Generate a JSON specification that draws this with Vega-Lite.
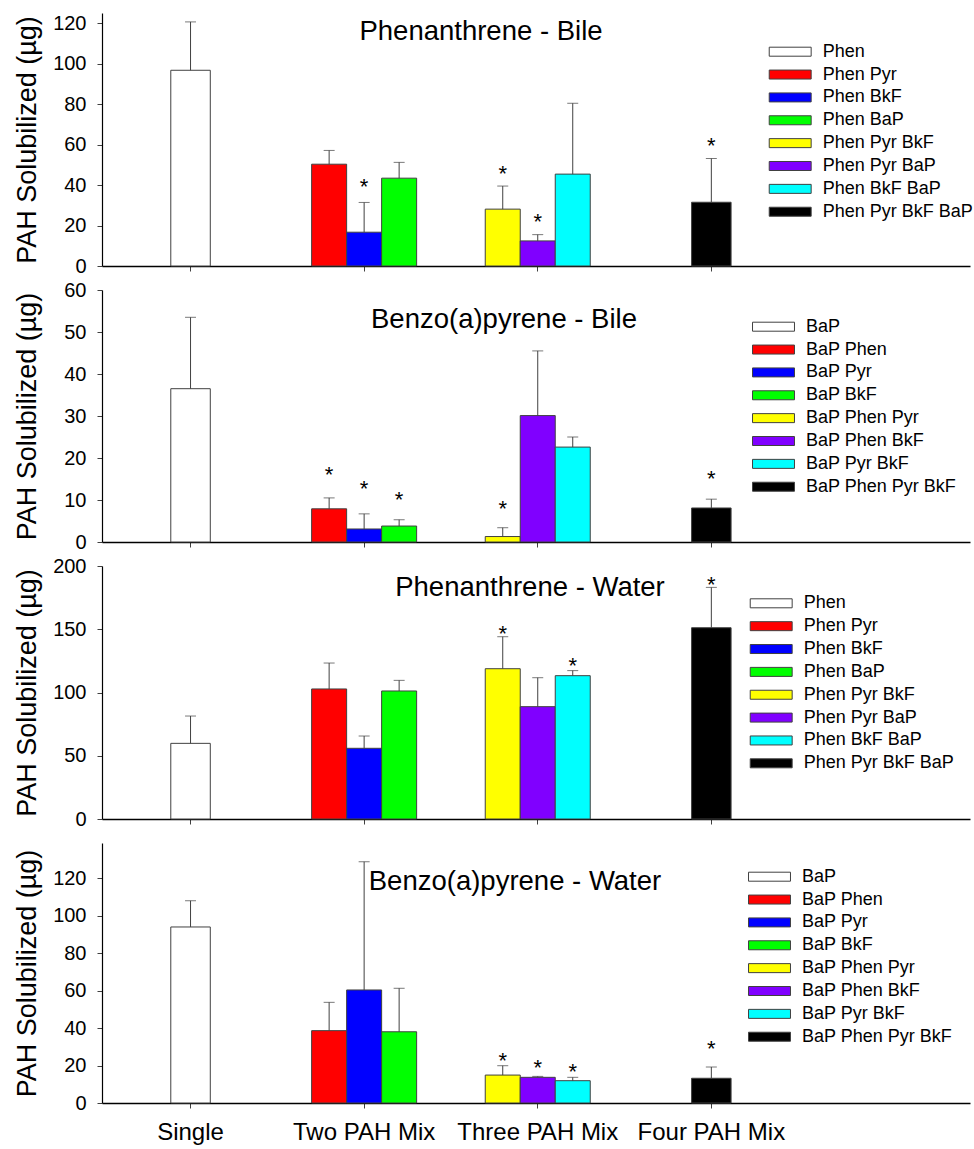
{
  "$schema": "https://vega.github.io/schema/vega-lite/v6.json",
  "padding": {"left": 12, "top": 13, "right": 5, "bottom": 5},
  "background": "white",
  "datasets": {
    "pah": [
      {"panel": "PB", "group": "Single", "member": 2, "mix": "Phen", "value": 96.7, "upper": 120.6, "star": null},
      {"panel": "PB", "group": "Two PAH Mix", "member": 1, "mix": "Phen Pyr", "value": 50.3, "upper": 57.1, "star": null},
      {"panel": "PB", "group": "Two PAH Mix", "member": 2, "mix": "Phen BkF", "value": 16.7, "upper": 31.4, "star": 41.8},
      {"panel": "PB", "group": "Two PAH Mix", "member": 3, "mix": "Phen BaP", "value": 43.4, "upper": 51.2, "star": null},
      {"panel": "PB", "group": "Three PAH Mix", "member": 1, "mix": "Phen Pyr BkF", "value": 28.1, "upper": 39.5, "star": 48.4},
      {"panel": "PB", "group": "Three PAH Mix", "member": 2, "mix": "Phen Pyr BaP", "value": 12.4, "upper": 15.5, "star": 24.4},
      {"panel": "PB", "group": "Three PAH Mix", "member": 3, "mix": "Phen BkF BaP", "value": 45.4, "upper": 80.4, "star": null},
      {"panel": "PB", "group": "Four PAH Mix", "member": 2, "mix": "Phen Pyr BkF BaP", "value": 31.5, "upper": 53.1, "star": 62.4},

      {"panel": "BB", "group": "Single", "member": 2, "mix": "BaP", "value": 36.5, "upper": 53.5, "star": null},
      {"panel": "BB", "group": "Two PAH Mix", "member": 1, "mix": "BaP Phen", "value": 7.9, "upper": 10.5, "star": 17.3},
      {"panel": "BB", "group": "Two PAH Mix", "member": 2, "mix": "BaP Pyr", "value": 3.1, "upper": 6.7, "star": 14.1},
      {"panel": "BB", "group": "Two PAH Mix", "member": 3, "mix": "BaP BkF", "value": 3.8, "upper": 5.3, "star": 11.3},
      {"panel": "BB", "group": "Three PAH Mix", "member": 1, "mix": "BaP Phen Pyr", "value": 1.3, "upper": 3.4, "star": 9.3},
      {"panel": "BB", "group": "Three PAH Mix", "member": 2, "mix": "BaP Phen BkF", "value": 30.1, "upper": 45.5, "star": null},
      {"panel": "BB", "group": "Three PAH Mix", "member": 3, "mix": "BaP Pyr BkF", "value": 22.6, "upper": 25.0, "star": null},
      {"panel": "BB", "group": "Four PAH Mix", "member": 2, "mix": "BaP Phen Pyr BkF", "value": 8.1, "upper": 10.2, "star": 16.3},

      {"panel": "PW", "group": "Single", "member": 2, "mix": "Phen", "value": 59.8, "upper": 81.4, "star": null},
      {"panel": "PW", "group": "Two PAH Mix", "member": 1, "mix": "Phen Pyr", "value": 102.8, "upper": 123.3, "star": null},
      {"panel": "PW", "group": "Two PAH Mix", "member": 2, "mix": "Phen BkF", "value": 55.9, "upper": 65.6, "star": null},
      {"panel": "PW", "group": "Two PAH Mix", "member": 3, "mix": "Phen BaP", "value": 101.2, "upper": 109.6, "star": null},
      {"panel": "PW", "group": "Three PAH Mix", "member": 1, "mix": "Phen Pyr BkF", "value": 118.8, "upper": 144.1, "star": 150.7},
      {"panel": "PW", "group": "Three PAH Mix", "member": 2, "mix": "Phen Pyr BaP", "value": 88.8, "upper": 111.7, "star": null},
      {"panel": "PW", "group": "Three PAH Mix", "member": 3, "mix": "Phen BkF BaP", "value": 113.3, "upper": 117.3, "star": 125.7},
      {"panel": "PW", "group": "Four PAH Mix", "member": 2, "mix": "Phen Pyr BkF BaP", "value": 151.2, "upper": 183.1, "star": 189.7},

      {"panel": "BW", "group": "Single", "member": 2, "mix": "BaP", "value": 93.9, "upper": 107.9, "star": null},
      {"panel": "BW", "group": "Two PAH Mix", "member": 1, "mix": "BaP Phen", "value": 38.6, "upper": 53.7, "star": null},
      {"panel": "BW", "group": "Two PAH Mix", "member": 2, "mix": "BaP Pyr", "value": 60.3, "upper": 128.7, "star": null},
      {"panel": "BW", "group": "Two PAH Mix", "member": 3, "mix": "BaP BkF", "value": 38.0, "upper": 61.2, "star": null},
      {"panel": "BW", "group": "Three PAH Mix", "member": 1, "mix": "BaP Phen Pyr", "value": 14.9, "upper": 19.9, "star": 25.6},
      {"panel": "BW", "group": "Three PAH Mix", "member": 2, "mix": "BaP Phen BkF", "value": 13.7, "upper": 14.2, "star": 22.0},
      {"panel": "BW", "group": "Three PAH Mix", "member": 3, "mix": "BaP Pyr BkF", "value": 11.9, "upper": 13.7, "star": 19.7},
      {"panel": "BW", "group": "Four PAH Mix", "member": 2, "mix": "BaP Phen Pyr BkF", "value": 13.2, "upper": 19.2, "star": 31.8}
    ]
  },
  "vconcat": [
    {
      "width": 868, "height": 253,
      "data": {"name": "pah"},
      "transform": [{"filter": "datum.panel == 'PB'"}],
      "title": {"text": "Phenanthrene - Bile", "anchor": "middle", "baseline": "alphabetic", "offset": -54, "dx": -55},
      "encoding": {
        "x": {"field": "group", "type": "nominal", "sort": ["Single", "Two PAH Mix", "Three PAH Mix", "Four PAH Mix"], "scale": {"paddingInner": 0, "paddingOuter": 0.5, "align": 0.01}, "axis": {"labels": false, "title": null}}
      },
      "layer": [
        {"transform": [{"filter": {"not": {"field": "group", "oneOf": ["Single", "Four PAH Mix"]}}}],
         "mark": {"type": "bar", "stroke": "#404040", "strokeWidth": 1},
         "encoding": {
           "xOffset": {"field": "member", "type": "ordinal", "scale": {"domain": [1, 2, 3], "paddingInner": 0, "paddingOuter": 0.98}},
           "y": {"field": "value", "type": "quantitative", "scale": {"domain": [0, 125], "nice": false}, "axis": {"values": [0, 20, 40, 60, 80, 100, 120], "title": "PAH Solubilized (µg)"}},
           "color": {"field": "mix", "type": "nominal", "scale": {"domain": ["Phen", "Phen Pyr", "Phen BkF", "Phen BaP", "Phen Pyr BkF", "Phen Pyr BaP", "Phen BkF BaP", "Phen Pyr BkF BaP"], "range": ["#ffffff", "#ff0000", "#0000ff", "#00ff00", "#ffff00", "#8000ff", "#00ffff", "#000000"]}, "legend": {"orient": "none", "legendX": 678.7, "legendY": 29.2}}
         }},
        {"transform": [{"filter": {"field": "group", "oneOf": ["Single", "Four PAH Mix"]}}],
         "mark": {"type": "bar", "stroke": "#404040", "strokeWidth": 1, "width": {"band": 0.2275}},
         "encoding": {
           "y": {"field": "value", "type": "quantitative", "axis": {"values": [0, 20, 40, 60, 80, 100, 120], "title": "PAH Solubilized (µg)"}},
           "color": {"field": "mix", "type": "nominal"}
         }},
        {"mark": {"type": "rule", "color": "#404040", "strokeWidth": 1},
         "encoding": {"xOffset": {"field": "member", "type": "ordinal"}, "y": {"field": "value", "type": "quantitative", "axis": {"values": [0, 20, 40, 60, 80, 100, 120], "title": "PAH Solubilized (µg)"}}, "y2": {"field": "upper"}}},
        {"mark": {"type": "tick", "orient": "horizontal", "color": "#404040", "size": 11, "thickness": 1},
         "encoding": {"xOffset": {"field": "member", "type": "ordinal"}, "y": {"field": "upper", "type": "quantitative", "axis": {"values": [0, 20, 40, 60, 80, 100, 120], "title": "PAH Solubilized (µg)"}}}},
        {"transform": [{"filter": "datum.star != null"}],
         "mark": {"type": "text", "text": "*", "fontSize": 22, "dy": 12.8, "baseline": "alphabetic", "color": "#000"},
         "encoding": {"xOffset": {"field": "member", "type": "ordinal"}, "y": {"field": "star", "type": "quantitative", "axis": {"values": [0, 20, 40, 60, 80, 100, 120], "title": "PAH Solubilized (µg)"}}}}
      ]
    },
    {
      "width": 868, "height": 252,
      "data": {"name": "pah"},
      "transform": [{"filter": "datum.panel == 'BB'"}],
      "title": {"text": "Benzo(a)pyrene - Bile", "anchor": "middle", "baseline": "alphabetic", "offset": -75, "dx": -32},
      "encoding": {
        "x": {"field": "group", "type": "nominal", "sort": ["Single", "Two PAH Mix", "Three PAH Mix", "Four PAH Mix"], "scale": {"paddingInner": 0, "paddingOuter": 0.5, "align": 0.01}, "axis": {"labels": false, "title": null}}
      },
      "layer": [
        {"transform": [{"filter": {"not": {"field": "group", "oneOf": ["Single", "Four PAH Mix"]}}}],
         "mark": {"type": "bar", "stroke": "#404040", "strokeWidth": 1},
         "encoding": {
           "xOffset": {"field": "member", "type": "ordinal", "scale": {"domain": [1, 2, 3], "paddingInner": 0, "paddingOuter": 0.98}},
           "y": {"field": "value", "type": "quantitative", "scale": {"domain": [0, 60], "nice": false}, "axis": {"values": [0, 10, 20, 30, 40, 50, 60], "title": "PAH Solubilized (µg)"}},
           "color": {"field": "mix", "type": "nominal", "scale": {"domain": ["BaP", "BaP Phen", "BaP Pyr", "BaP BkF", "BaP Phen Pyr", "BaP Phen BkF", "BaP Pyr BkF", "BaP Phen Pyr BkF"], "range": ["#ffffff", "#ff0000", "#0000ff", "#00ff00", "#ffff00", "#8000ff", "#00ffff", "#000000"]}, "legend": {"orient": "none", "legendX": 662, "legendY": 27.2}}
         }},
        {"transform": [{"filter": {"field": "group", "oneOf": ["Single", "Four PAH Mix"]}}],
         "mark": {"type": "bar", "stroke": "#404040", "strokeWidth": 1, "width": {"band": 0.2275}},
         "encoding": {
           "y": {"field": "value", "type": "quantitative", "axis": {"values": [0, 10, 20, 30, 40, 50, 60], "title": "PAH Solubilized (µg)"}},
           "color": {"field": "mix", "type": "nominal"}
         }},
        {"mark": {"type": "rule", "color": "#404040", "strokeWidth": 1},
         "encoding": {"xOffset": {"field": "member", "type": "ordinal"}, "y": {"field": "value", "type": "quantitative", "axis": {"values": [0, 10, 20, 30, 40, 50, 60], "title": "PAH Solubilized (µg)"}}, "y2": {"field": "upper"}}},
        {"mark": {"type": "tick", "orient": "horizontal", "color": "#404040", "size": 11, "thickness": 1},
         "encoding": {"xOffset": {"field": "member", "type": "ordinal"}, "y": {"field": "upper", "type": "quantitative", "axis": {"values": [0, 10, 20, 30, 40, 50, 60], "title": "PAH Solubilized (µg)"}}}},
        {"transform": [{"filter": "datum.star != null"}],
         "mark": {"type": "text", "text": "*", "fontSize": 22, "dy": 12.8, "baseline": "alphabetic", "color": "#000"},
         "encoding": {"xOffset": {"field": "member", "type": "ordinal"}, "y": {"field": "star", "type": "quantitative", "axis": {"values": [0, 10, 20, 30, 40, 50, 60], "title": "PAH Solubilized (µg)"}}}}
      ]
    },
    {
      "width": 868, "height": 253,
      "data": {"name": "pah"},
      "transform": [{"filter": "datum.panel == 'PW'"}],
      "title": {"text": "Phenanthrene - Water", "anchor": "middle", "baseline": "alphabetic", "offset": -67, "dx": -6},
      "encoding": {
        "x": {"field": "group", "type": "nominal", "sort": ["Single", "Two PAH Mix", "Three PAH Mix", "Four PAH Mix"], "scale": {"paddingInner": 0, "paddingOuter": 0.5, "align": 0.01}, "axis": {"labels": false, "title": null}}
      },
      "layer": [
        {"transform": [{"filter": {"not": {"field": "group", "oneOf": ["Single", "Four PAH Mix"]}}}],
         "mark": {"type": "bar", "stroke": "#404040", "strokeWidth": 1},
         "encoding": {
           "xOffset": {"field": "member", "type": "ordinal", "scale": {"domain": [1, 2, 3], "paddingInner": 0, "paddingOuter": 0.98}},
           "y": {"field": "value", "type": "quantitative", "scale": {"domain": [0, 200], "nice": false}, "axis": {"values": [0, 50, 100, 150, 200], "title": "PAH Solubilized (µg)"}},
           "color": {"field": "mix", "type": "nominal", "scale": {"domain": ["Phen", "Phen Pyr", "Phen BkF", "Phen BaP", "Phen Pyr BkF", "Phen Pyr BaP", "Phen BkF BaP", "Phen Pyr BkF BaP"], "range": ["#ffffff", "#ff0000", "#0000ff", "#00ff00", "#ffff00", "#8000ff", "#00ffff", "#000000"]}, "legend": {"orient": "none", "legendX": 659.7, "legendY": 27.8}}
         }},
        {"transform": [{"filter": {"field": "group", "oneOf": ["Single", "Four PAH Mix"]}}],
         "mark": {"type": "bar", "stroke": "#404040", "strokeWidth": 1, "width": {"band": 0.2275}},
         "encoding": {
           "y": {"field": "value", "type": "quantitative", "axis": {"values": [0, 50, 100, 150, 200], "title": "PAH Solubilized (µg)"}},
           "color": {"field": "mix", "type": "nominal"}
         }},
        {"mark": {"type": "rule", "color": "#404040", "strokeWidth": 1},
         "encoding": {"xOffset": {"field": "member", "type": "ordinal"}, "y": {"field": "value", "type": "quantitative", "axis": {"values": [0, 50, 100, 150, 200], "title": "PAH Solubilized (µg)"}}, "y2": {"field": "upper"}}},
        {"mark": {"type": "tick", "orient": "horizontal", "color": "#404040", "size": 11, "thickness": 1},
         "encoding": {"xOffset": {"field": "member", "type": "ordinal"}, "y": {"field": "upper", "type": "quantitative", "axis": {"values": [0, 50, 100, 150, 200], "title": "PAH Solubilized (µg)"}}}},
        {"transform": [{"filter": "datum.star != null"}],
         "mark": {"type": "text", "text": "*", "fontSize": 22, "dy": 12.8, "baseline": "alphabetic", "color": "#000"},
         "encoding": {"xOffset": {"field": "member", "type": "ordinal"}, "y": {"field": "star", "type": "quantitative", "axis": {"values": [0, 50, 100, 150, 200], "title": "PAH Solubilized (µg)"}}}}
      ]
    },
    {
      "width": 868, "height": 260,
      "data": {"name": "pah"},
      "transform": [{"filter": "datum.panel == 'BW'"}],
      "title": {"text": "Benzo(a)pyrene - Water", "anchor": "middle", "baseline": "alphabetic", "offset": -74, "dx": -21},
      "encoding": {
        "x": {"field": "group", "type": "nominal", "sort": ["Single", "Two PAH Mix", "Three PAH Mix", "Four PAH Mix"], "scale": {"paddingInner": 0, "paddingOuter": 0.5, "align": 0.01}, "axis": {"labels": true, "title": null}}
      },
      "layer": [
        {"transform": [{"filter": {"not": {"field": "group", "oneOf": ["Single", "Four PAH Mix"]}}}],
         "mark": {"type": "bar", "stroke": "#404040", "strokeWidth": 1},
         "encoding": {
           "xOffset": {"field": "member", "type": "ordinal", "scale": {"domain": [1, 2, 3], "paddingInner": 0, "paddingOuter": 0.98}},
           "y": {"field": "value", "type": "quantitative", "scale": {"domain": [0, 138.7], "nice": false}, "axis": {"values": [0, 20, 40, 60, 80, 100, 120], "title": "PAH Solubilized (µg)"}},
           "color": {"field": "mix", "type": "nominal", "scale": {"domain": ["BaP", "BaP Phen", "BaP Pyr", "BaP BkF", "BaP Phen Pyr", "BaP Phen BkF", "BaP Pyr BkF", "BaP Phen Pyr BkF"], "range": ["#ffffff", "#ff0000", "#0000ff", "#00ff00", "#ffff00", "#8000ff", "#00ffff", "#000000"]}, "legend": {"orient": "none", "legendX": 658, "legendY": 24.2}}
         }},
        {"transform": [{"filter": {"field": "group", "oneOf": ["Single", "Four PAH Mix"]}}],
         "mark": {"type": "bar", "stroke": "#404040", "strokeWidth": 1, "width": {"band": 0.2275}},
         "encoding": {
           "y": {"field": "value", "type": "quantitative", "axis": {"values": [0, 20, 40, 60, 80, 100, 120], "title": "PAH Solubilized (µg)"}},
           "color": {"field": "mix", "type": "nominal"}
         }},
        {"mark": {"type": "rule", "color": "#404040", "strokeWidth": 1},
         "encoding": {"xOffset": {"field": "member", "type": "ordinal"}, "y": {"field": "value", "type": "quantitative", "axis": {"values": [0, 20, 40, 60, 80, 100, 120], "title": "PAH Solubilized (µg)"}}, "y2": {"field": "upper"}}},
        {"mark": {"type": "tick", "orient": "horizontal", "color": "#404040", "size": 11, "thickness": 1},
         "encoding": {"xOffset": {"field": "member", "type": "ordinal"}, "y": {"field": "upper", "type": "quantitative", "axis": {"values": [0, 20, 40, 60, 80, 100, 120], "title": "PAH Solubilized (µg)"}}}},
        {"transform": [{"filter": "datum.star != null"}],
         "mark": {"type": "text", "text": "*", "fontSize": 22, "dy": 12.8, "baseline": "alphabetic", "color": "#000"},
         "encoding": {"xOffset": {"field": "member", "type": "ordinal"}, "y": {"field": "star", "type": "quantitative", "axis": {"values": [0, 20, 40, 60, 80, 100, 120], "title": "PAH Solubilized (µg)"}}}}
      ]
    }
  ],
  "spacing": 24,
  "bounds": "flush",
  "resolve": {"scale": {"color": "independent", "y": "independent"}, "legend": {"color": "independent"}},
  "config": {
    "font": "Liberation Sans",
    "view": {"stroke": null},
    "title": {"font": "Liberation Sans", "fontSize": 27.5, "fontWeight": "normal", "color": "#000000"},
    "axis": {"grid": false, "labelFont": "Liberation Sans", "titleFont": "Liberation Sans", "labelColor": "#000000", "titleColor": "#000000", "domainColor": "#000000", "tickColor": "#404040", "tickSize": 5},
    "axisY": {"labelFontSize": 20, "labelPadding": 11, "titleFontSize": 27, "titleFontWeight": "normal", "minExtent": 49, "maxExtent": 49, "titlePadding": 12, "domainWidth": 1.2},
    "axisX": {"labelFontSize": 24, "labelAngle": 0, "labelPadding": 12, "domainWidth": 1.5, "labelLimit": 300},
    "legend": {"title": null, "padding": 0, "labelFont": "Liberation Sans", "labelFontSize": 18, "labelColor": "#000000", "symbolType": "M-2.33,-0.5H2.33V0.5H-2.33Z", "symbolSize": 324, "symbolStrokeColor": "#404040", "symbolStrokeWidth": 1, "symbolOpacity": 1, "labelOffset": 23, "rowPadding": 3.86}
  }
}
